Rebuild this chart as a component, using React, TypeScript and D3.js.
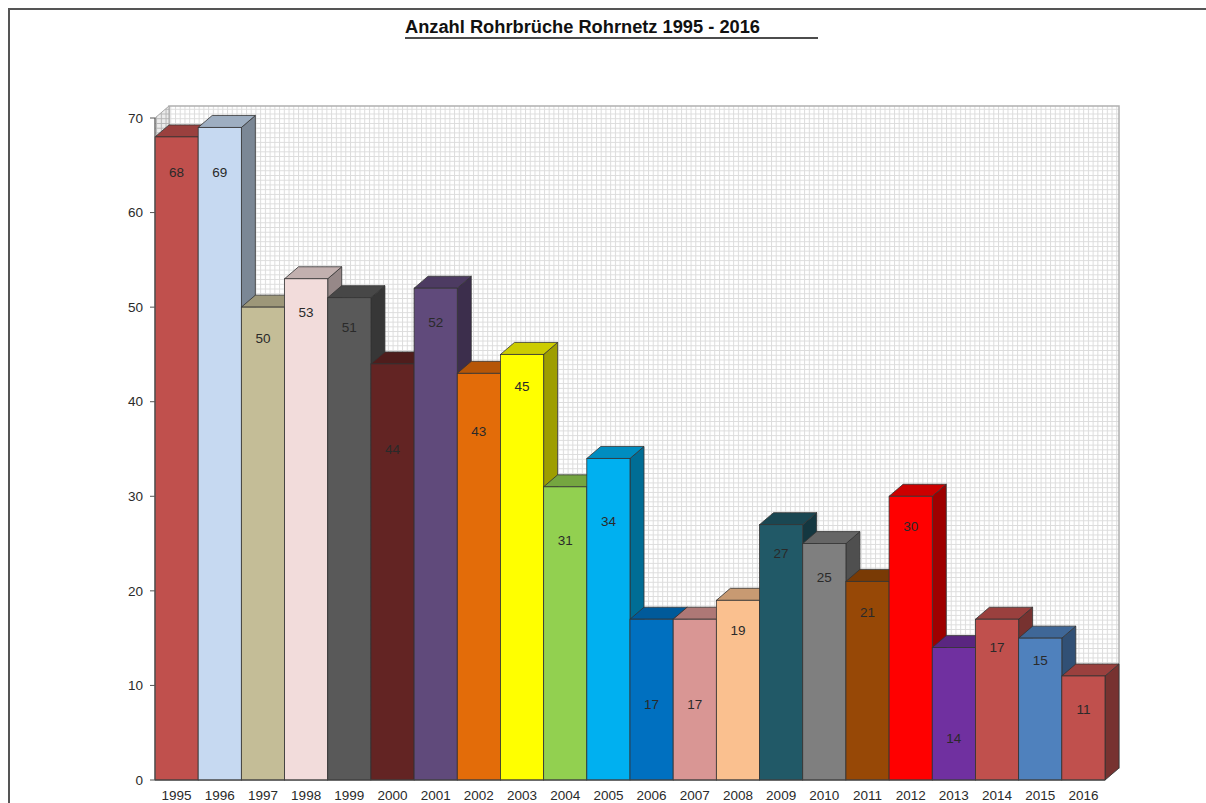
import React from 'react';
import * as d3 from 'd3';

const years = ['1995','1996','1997','1998','1999','2000','2001','2002','2003','2004','2005','2006','2007','2008','2009','2010','2011','2012','2013','2014','2015','2016'];
const counts = [68,69,50,53,51,44,52,43,45,31,34,17,17,19,27,25,21,30,14,17,15,11];
const barColors = ['#c0504d','#c6d9f1','#c4bd97','#f2dcdb','#595959','#632423','#604a7b','#e36c09','#ffff00','#92d050','#00b0f0','#0070c0','#d99694','#fac08f','#215967','#7f7f7f','#974806','#ff0000','#7030a0','#c0504d','#4f81bd','#c0504d'];
// value-axis position (in counts) where each bar's data label sits
const labelAt = [64.3,64.3,46.7,49.5,47.9,35.0,48.4,36.9,41.6,25.4,27.4,8.0,8.0,15.8,24.0,21.4,17.7,26.8,4.4,14.0,12.7,7.5];
const yTicks = [0,10,20,30,40,50,60,70];
const title = 'Anzahl Rohrbrüche Rohrnetz 1995 - 2016';

const W = 1206, H = 803;
const DX = 14, DY = 12;
const FONT = 'Liberation Sans, Arial, sans-serif';

function shade(c: string, k: number) {
  const rgb = d3.rgb(c);
  return d3.rgb(rgb.r * k, rgb.g * k, rgb.b * k).formatHex();
}

export default function App() {
  const y = d3.scaleLinear().domain([0, 70]).range([780, 118]);
  const x = d3.scaleBand<string>().domain(years).range([155, 1105]).paddingInner(0).paddingOuter(0);
  const y0 = y(0);
  const yTop = y(70);
  const xL = 155, xR = 1105;

  return (
    <svg width={W} height={H} style={{ position: 'absolute', left: 0, top: 0, background: '#fff' }}>
      <defs>
        <pattern id="grid" width={4.73} height={4.73} patternUnits="userSpaceOnUse">
          <rect width={4.73} height={4.73} fill="#fff" />
          <path d="M0,0.5H4.73M0.5,0V4.73" stroke="#dcdcdc" strokeWidth={1} />
        </pattern>
        <pattern id="gridDark" width={4.73} height={4.73} patternUnits="userSpaceOnUse">
          <rect width={4.73} height={4.73} fill="#ececec" />
          <path d="M0,0.5H4.73M0.5,0V4.73" stroke="#b5b5b5" strokeWidth={1} />
        </pattern>
      </defs>
      {/* outer frame */}
      <path d={`M9,${H}V9H${W}`} fill="none" stroke="#555" strokeWidth={2} />
      {/* title */}
      <text x={405} y={33} fontFamily={FONT} fontSize={17.5} fontWeight="bold" fill="#111" textLength={355} lengthAdjust="spacingAndGlyphs">{title}</text>
      <line x1={405} x2={818} y1={38} y2={38} stroke="#111" strokeWidth={1.5} />

      {/* back wall */}
      <rect x={xL + DX} y={yTop - DY} width={xR - xL} height={y0 - yTop} fill="url(#grid)" stroke="#b0b0b0" strokeWidth={1.5} />
      {/* left wall */}
      <path d={`M${xL},${yTop}L${xL + DX},${yTop - DY}V${y0 - DY}L${xL},${y0}Z`} fill="url(#gridDark)" stroke="#a8a8a8" strokeWidth={1} />
      {/* floor */}
      <path d={`M${xL},${y0}L${xL + DX},${y0 - DY}H${xR + DX}L${xR},${y0}Z`} fill="#e0e0e0" stroke="#a8a8a8" strokeWidth={1} />

      {/* bars */}
      {years.map((yr, i) => {
        const bx = x(yr)!;
        const bw = x.bandwidth();
        const ty = y(counts[i]);
        const c = barColors[i];
        return (
          <g key={yr}>
            <path d={`M${bx + bw},${ty}L${bx + bw + DX},${ty - DY}V${y0 - DY}L${bx + bw},${y0}Z`} fill={shade(c, 0.62)} stroke="#333" strokeWidth={0.8} />
            <path d={`M${bx},${ty}L${bx + DX},${ty - DY}H${bx + bw + DX}L${bx + bw},${ty}Z`} fill={shade(c, 0.8)} stroke="#333" strokeWidth={0.8} />
            <rect x={bx} y={ty} width={bw} height={y0 - ty} fill={c} stroke="#333" strokeWidth={0.8} />
          </g>
        );
      })}
      {/* labels */}
      {years.map((yr, i) => (
        <text key={'l' + yr} x={x(yr)! + x.bandwidth() / 2} y={y(labelAt[i])} dy="0.35em" textAnchor="middle" fontFamily={FONT} fontSize={13.5} fill="#2a2a2a">{counts[i]}</text>
      ))}

      {/* axes */}
      <line x1={xL} x2={xL} y1={yTop} y2={y0} stroke="#555" strokeWidth={1} />
      <line x1={xL} x2={xR} y1={y0} y2={y0} stroke="#444" strokeWidth={1.2} />
      {yTicks.map(t => (
        <g key={'t' + t}>
          <line x1={xL - 5} x2={xL} y1={y(t)} y2={y(t)} stroke="#555" strokeWidth={1} />
          <text x={143} y={y(t)} dy="0.35em" textAnchor="end" fontFamily={FONT} fontSize={13.5} fill="#2a2a2a">{t}</text>
        </g>
      ))}
      {years.map(yr => (
        <text key={'x' + yr} x={x(yr)! + x.bandwidth() / 2} y={795} dy="0.35em" textAnchor="middle" fontFamily={FONT} fontSize={13.5} fill="#2a2a2a">{yr}</text>
      ))}
    </svg>
  );
}
